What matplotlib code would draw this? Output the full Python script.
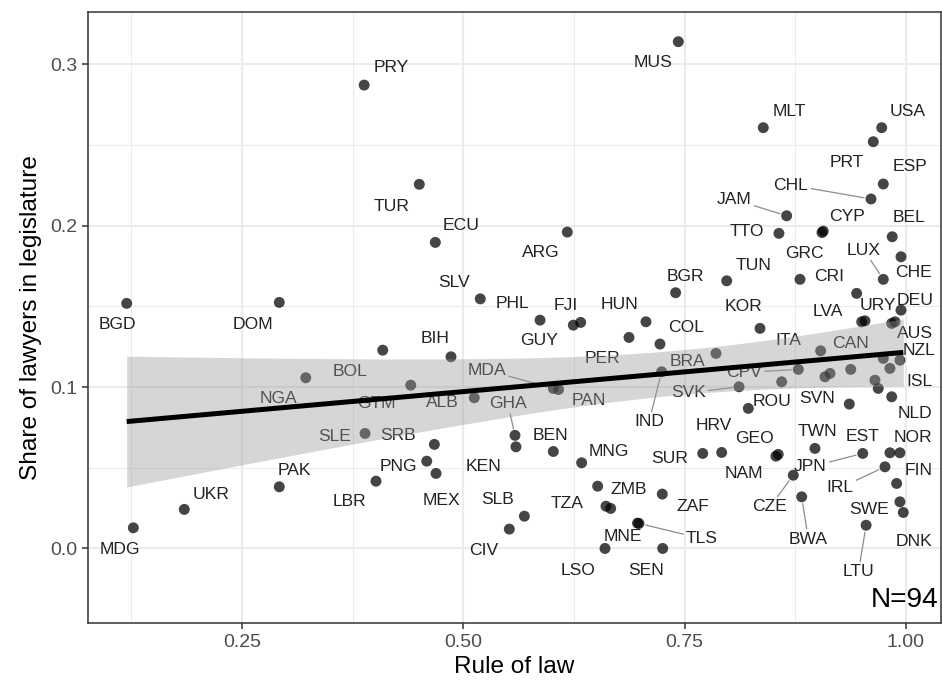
import numpy as np
import matplotlib
matplotlib.use("Agg")
import matplotlib.pyplot as plt

plt.rcParams['font.family'] = ['Liberation Sans', 'DejaVu Sans']

# ---------------- data ----------------
codes = ["PRY", "BGD", "DOM", "MUS", "TUR", "ECU", "ARG", "SLV", "PHL", "GUY",
         "FJI", "BGR", "TUN", "HUN", "PER", "COL", "IND", "BRA", "SVK", "CPV",
         "ROU", "MDA", "PAN", "CRI", "LUX", "CHE", "LVA", None, "URY", "DEU",
         None, "AUS", "KOR", "ITA", "CAN", None, None, None, None, "ISL",
         "NZL", None, None, "NLD", "SVN", "TWN", "JPN", "EST", "NOR", "IRL",
         "FIN", "SWE", "DNK", "LTU", "CZE", "BWA", "GEO", "NAM", "SUR", "HRV",
         "MNG", "ZMB", "TZA", None, "ZAF", "TLS", "MNE", "LSO", "SEN", "SLE",
         "SRB", "PNG", "MEX", "LBR", "GHA", "KEN", "BEN", "SLB", "CIV", "MDG",
         "UKR", "PAK", "NGA", "BOL", "BIH", "GTM", "ALB", "MLT", "USA", "PRT",
         "ESP", "CHL", "JAM", "TTO", "CYP", "GRC", "BEL"]

rule_of_law = [0.388, 0.1197, 0.2921, 0.7429, 0.4503, 0.4684, 0.6175, 0.5192, 0.5867, 0.6243,
               0.6326, 0.7399, 0.7976, 0.7064, 0.6872, 0.7222, 0.7241, 0.7855, 0.8115, 0.8785,
               0.8220, 0.6017, 0.6076, 0.8804, 0.9745, 0.9945, 0.9444, 0.9501, 0.9538, 0.9945,
               0.9840, 0.9877, 0.8352, 0.9037, 0.9377, 0.8597, 0.9086, 0.9143, 0.9745, 0.9820,
               0.9933, 0.9651, 0.9688, 0.9840, 0.9361, 0.8973, 0.9513, 0.9820, 0.9933, 0.9764,
               0.9896, 0.9933, 0.9971, 0.9551, 0.8728, 0.8823, 0.8558, 0.8532, 0.7705, 0.7919,
               0.6337, 0.6518, 0.6612, 0.6665, 0.7248, 0.6985, 0.6968, 0.6601, 0.7253, 0.3890,
               0.4673, 0.4587, 0.4692, 0.4014, 0.5584, 0.5595, 0.6017, 0.5690, 0.5520, 0.1272,
               0.1848, 0.2921, 0.3220, 0.4090, 0.4861, 0.4406, 0.5124, 0.8389, 0.9727, 0.9632,
               0.9745, 0.9606, 0.8653, 0.8566, 0.9067, 0.9052, 0.9846]

lawyer_share = [0.2872, 0.1519, 0.1525, 0.3141, 0.2257, 0.1897, 0.1961, 0.1547, 0.1415, 0.1384,
                0.1401, 0.1585, 0.1659, 0.1405, 0.1308, 0.1267, 0.1095, 0.1209, 0.1002, 0.1110,
                0.0868, 0.0992, 0.0985, 0.1668, 0.1668, 0.1808, 0.1581, 0.1405, 0.1411, 0.1477,
                0.1395, 0.1405, 0.1364, 0.1225, 0.1110, 0.1033, 0.1064, 0.1085, 0.1178, 0.1116,
                0.1167, 0.1043, 0.0992, 0.0940, 0.0895, 0.0620, 0.0589, 0.0593, 0.0593, 0.0506,
                0.0403, 0.0289, 0.0223, 0.0144, 0.0454, 0.0320, 0.0583, 0.0572, 0.0589, 0.0595,
                0.0531, 0.0386, 0.0262, 0.0248, 0.0337, 0.0155, 0.0157, 0.0000, 0.0000, 0.0713,
                0.0645, 0.0541, 0.0465, 0.0417, 0.0701, 0.0630, 0.0601, 0.0200, 0.0120, 0.0128,
                0.0242, 0.0382, 0.1058, 0.1229, 0.1188, 0.1012, 0.0934, 0.2608, 0.2608, 0.2521,
                0.2259, 0.2166, 0.2062, 0.1953, 0.1967, 0.1958, 0.1932]

x_ticks = [0.25, 0.50, 0.75, 1.00]
x_ticklabels = ["0.25", "0.50", "0.75", "1.00"]
y_ticks = [0.0, 0.1, 0.2, 0.3]
y_ticklabels = ["0.0", "0.1", "0.2", "0.3"]
n_label = "N=94"

# label placement (offset of label centre from point, in screen pixels, y down)
label_offsets = {
    "PRY": (26.7, -19), "BGD": (-9, 19.4), "DOM": (-26.5, 20.4), "MUS": (-25.3, 19),
    "TUR": (-27.3, 20), "ECU": (26, -19), "ARG": (-27, 19), "SLV": (-26.3, -18),
    "PHL": (-27.5, -18.3), "GUY": (-34, 14), "FJI": (-14.7, -18.3), "BGR": (9.3, -17.7),
    "TUN": (26.6, -17.4), "HUN": (-26.5, -19), "KOR": (-16.7, -23.3), "COL": (26, -18.3),
    "PER": (-27, 19.4),
    "BRA": (-28.5, 6), "IND": (-12.7, 48.3), "SVK": (-50.7, 4.3), "CPV": (-54, 1.4),
    "ROU": (23.7, -9), "MDA": (-66.6, -20), "PAN": (30, 9.5), "CRI": (29.5, -4.3),
    "LUX": (-19.3, -31), "CHE": (12.8, 14), "LVA": (-28.4, 16), "URY": (12.5, -17.4),
    "DEU": (13.7, -11.7), "AUS": (20, 10), "NZL": (18.7, -11.7), "ITA": (-32.7, -12.4),
    "CAN": (-0.7, -27.6), "ISL": (30, 11.7), "NLD": (23.3, 15), "SVN": (-32.6, -7.3),
    "TWN": (2, -18.3), "EST": (-27.5, -17.7), "NOR": (13.3, -16.7), "JPN": (-52.4, 11.7),
    "IRL": (-45, 19.3), "FIN": (22.3, -14.3), "SWE": (-31.2, 5.6), "DNK": (11.2, 27),
    "LTU": (-7.7, 45), "CZE": (-23.3, 30), "BWA": (6.6, 40.6), "GEO": (-23.3, -17.6),
    "NAM": (-32.3, 15.7), "SUR": (-33.2, 3.4), "HRV": (-8.4, -28.3), "MNG": (27.3, -13.4),
    "ZMB": (31.3, 1.3), "TZA": (-39, -4.3), "ZAF": (30.7, 11), "TLS": (63, 13.4),
    "MNE": (-15, 12), "LSO": (-27, 20), "SEN": (-16.4, 20), "SLE": (-30.5, 1.7),
    "SRB": (-36.3, -11), "PNG": (-28.7, 4), "MEX": (5, 25.7), "LBR": (-26.5, 19),
    "GHA": (-7.2, -33.6), "KEN": (-32, 17.6), "BEN": (-3, -17.7), "SLB": (-26.8, -18.7),
    "CIV": (-26, 19.3), "ALB": (-32.3, 3.3), "GTM": (-34, 17), "MDG": (-13.8, 19.6),
    "UKR": (26.7, -17), "PAK": (15.2, -17.7), "NGA": (-27, 19), "BOL": (-33.2, 19.3),
    "BIH": (-16, -20), "MLT": (26.4, -17.7), "USA": (26.3, -17.7), "PRT": (-26.3, 19),
    "ESP": (26.7, -19), "CHL": (-80, -15.7), "JAM": (-52.4, -18), "TTO": (-32.3, -3.3),
    "CYP": (23.3, -16), "GRC": (-18, 19.2), "BEL": (16.9, -21),
}
segment_labels = {"IND", "SVK", "CPV", "MDA", "LUX", "JPN", "IRL", "LTU", "CZE",
                  "BWA", "TLS", "GHA", "CHL", "JAM"}

# ---------------- figure ----------------
W, H, DPI = 942, 687, 100
fig = plt.figure(figsize=(W / DPI, H / DPI), dpi=DPI)
ax = fig.add_axes([88 / W, (H - 623) / H, (941 - 88) / W, (623 - 12) / H])

x = np.array(rule_of_law)
y = np.array(lawyer_share)

ax.set_xlim(0.076, 1.0397)
ax.set_ylim(-0.0462, 0.3325)

# grid
for v in [0.125, 0.375, 0.625, 0.875]:
    ax.axvline(v, color="#EBEBEB", lw=0.75, zorder=0)
for v in [0.05, 0.15, 0.25]:
    ax.axhline(v, color="#EBEBEB", lw=0.75, zorder=0)
for v in x_ticks:
    ax.axvline(v, color="#EBEBEB", lw=1.5, zorder=0)
for v in y_ticks:
    ax.axhline(v, color="#EBEBEB", lw=1.5, zorder=0)

# points
ax.scatter(x, y, s=62, color="black", alpha=0.73, edgecolors="none", zorder=2)

# labels
cap = 0.716 * 17.5
for code, xi, yi in zip(codes, x, y):
    if not code:
        continue
    dx, dy = label_offsets[code]
    kw = {}
    if code in segment_labels:
        kw["arrowprops"] = dict(arrowstyle="-", color="#8C8C8C", lw=0.9,
                                shrinkA=0, shrinkB=5)
    ax.annotate(code, xy=(xi, yi), xytext=(dx, -(dy + cap / 2)),
                textcoords="offset pixels", ha="center", va="baseline",
                fontsize=12.6, color="#222222", zorder=3, **kw)

# regression with 95% CI
n = len(x)
b1, b0 = np.polyfit(x, y, 1)
resid = y - (b0 + b1 * x)
s = np.sqrt(np.sum(resid ** 2) / (n - 2))
sxx = np.sum((x - x.mean()) ** 2)
xs = np.linspace(x.min(), x.max(), 80)
fit = b0 + b1 * xs
se = s * np.sqrt(1 / n + (xs - x.mean()) ** 2 / sxx)
t = 1.986
ax.fill_between(xs, fit - t * se, fit + t * se, color="#999999", alpha=0.4,
                lw=0, zorder=4)
ax.plot(xs, fit, color="black", lw=3.6, zorder=5, solid_capstyle="butt")

ax.text(0.9975, 0.026, n_label, transform=ax.transAxes, ha="right",
        va="baseline", fontsize=20.2, color="black", zorder=6)

# axes styling
ax.set_xticks(x_ticks)
ax.set_xticklabels(x_ticklabels)
ax.set_yticks(y_ticks)
ax.set_yticklabels(y_ticklabels)
ax.tick_params(axis="both", length=4.3, width=1.1, color="#333333",
               labelcolor="#4D4D4D", labelsize=14, pad=3.5)
for sp in ax.spines.values():
    sp.set_color("#333333")
    sp.set_linewidth(1.1)
ax.set_xlabel("Rule of law", fontsize=17.6, color="black", labelpad=4)
ax.set_ylabel("Share of lawyers in legislature", fontsize=17.6, color="black",
              labelpad=6)

fig.savefig("out.png", dpi=DPI)
